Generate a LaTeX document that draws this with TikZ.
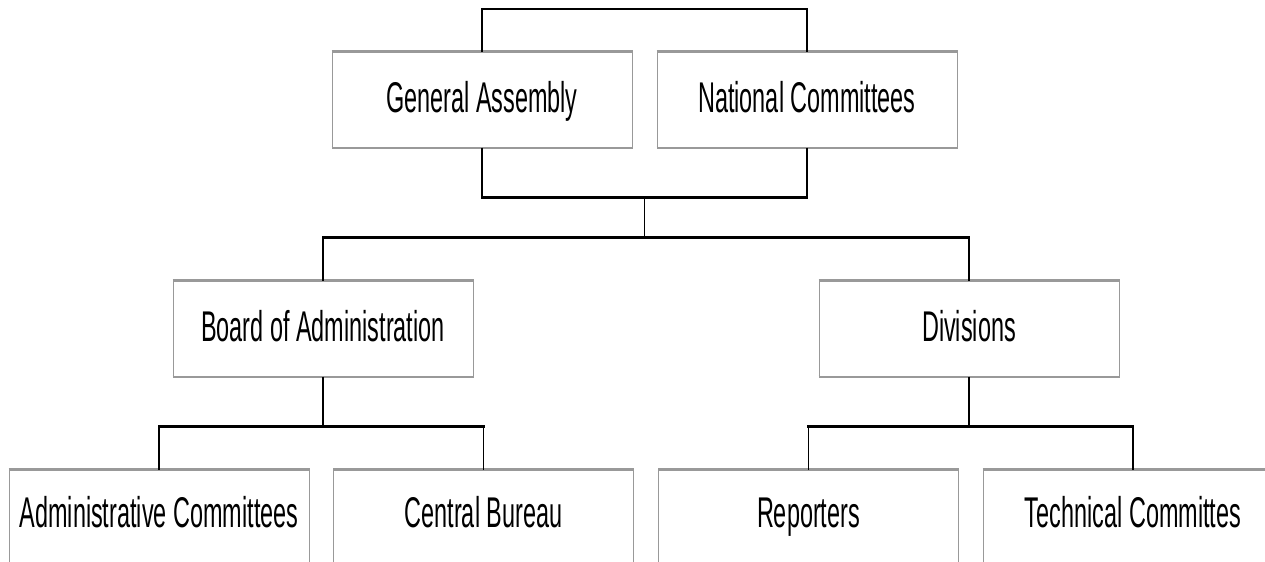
\documentclass[tikz,border=0pt]{standalone}
\usepackage{fontspec}
\newfontfamily\orgfont{Liberation Sans}[FakeStretch=0.545]
\usetikzlibrary{positioning, calc}

\begin{document}
\begin{tikzpicture}[
    node distance=11.75pt,
    unit/.style={rectangle, draw=black!40, line width=0.5pt, fill=white,
      minimum width=150pt, minimum height=47.5pt, inner sep=0pt,
      text height=15pt, text depth=2pt,
      font=\orgfont\fontsize{21.5pt}{26pt}\selectfont,
      append after command={\pgfextra{
        \draw[black!40, line width=1.2pt]
          (\tikzlastnode.north west) -- (\tikzlastnode.north east)
          (\tikzlastnode.south west) -- (\tikzlastnode.south east);}}},
    lowrow/.style={text depth=5.5pt},
    hline/.style={draw=black, line width=1.3pt, line cap=rect},
    vline/.style={draw=black, line width=0.55pt}
  ]

  % --- CANVAS ---
  \useasboundingbox (0,0) rectangle (632.5pt,-281pt);
  \clip (0,0) rectangle (632.5pt,-281pt);

  % --- TOP ROW ---
  \node[unit] (ga) at (241pt,-49.75pt) {General Assembly};
  \node[unit, right=12pt of ga] (nc) {National Committees};

  % --- MIDDLE ROW ---
  \node[unit] (board) at (161.5pt,-164.25pt) {Board of Administration};
  \node[unit] (div) at (484.5pt,-164.25pt) {Divisions};

  % --- BOTTOM ROW (cut off by the page) ---
  \node[unit, lowrow] (admin) at (79.5pt,-258.75pt) {Administrative Committees};
  \node[unit, lowrow, right=of admin] (bureau) {Central Bureau};
  \node[unit, lowrow, right=12pt of bureau] (rep) {Reporters};
  \node[unit, lowrow, right=of rep] (tech) {Technical Committes};

  % --- CONNECTORS ---

  % 1. Bracket over the top row
  \draw[vline] (ga.north) -- ++(0,21.25pt) coordinate (ga-up);
  \draw[vline] (nc.north) -- ++(0,21.25pt) coordinate (nc-up);
  \draw[hline] (ga-up) -- (nc-up);

  % 2. Bracket under the top row
  \draw[vline] (ga.south) -- ++(0,-25pt) coordinate (ga-dn);
  \draw[vline] (nc.south) -- ++(0,-25pt) coordinate (nc-dn);
  \draw[hline] (ga-dn) -- (nc-dn);
  \coordinate (join) at ($(ga-dn)!0.5!(nc-dn)$);

  % 3. Down to the middle row
  \draw[vline] (board.north) -- ++(0,21.5pt) coordinate (board-up);
  \draw[vline] (div.north) -- ++(0,21.5pt) coordinate (div-up);
  \draw[hline] (board-up) -- (div-up);
  \draw[vline] (join) -- (join |- board-up);

  % 4. Board of Administration
  \draw[vline] (board.south) -- ++(0,-25pt) coordinate (board-dn);
  \draw[vline] (admin.north) -- (admin.north |- board-dn);
  \draw[vline] (bureau.north) -- (bureau.north |- board-dn);
  \draw[hline] (admin.north |- board-dn) -- (bureau.north |- board-dn);

  % 5. Divisions
  \draw[vline] (div.south) -- ++(0,-25pt) coordinate (div-dn);
  \draw[vline] (rep.north) -- (rep.north |- div-dn);
  \draw[vline] (tech.north) -- (tech.north |- div-dn);
  \draw[hline] (rep.north |- div-dn) -- (tech.north |- div-dn);

\end{tikzpicture}
\end{document}
